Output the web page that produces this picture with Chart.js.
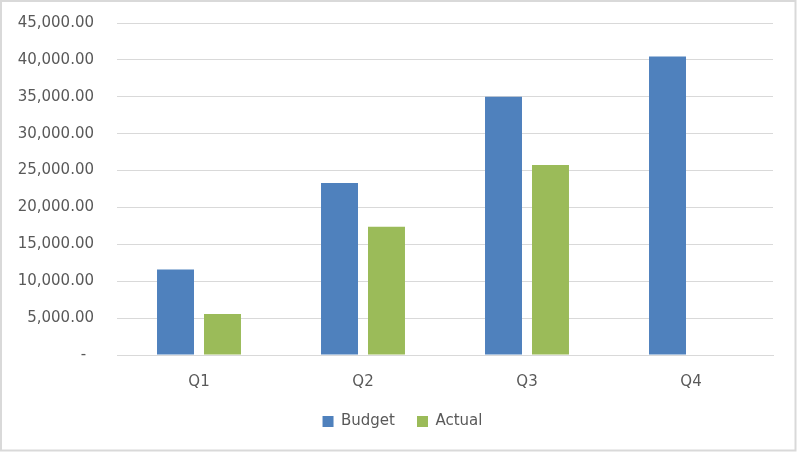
<!DOCTYPE html>
<html>
<head>
<meta charset="utf-8">
<script src="https://cdn.jsdelivr.net/npm/chart.js@4/dist/chart.umd.min.js"></script>
<style>
  html, body { margin: 0; padding: 0; background: #ffffff; }
  #wrap { width: 797px; height: 452px; position: relative; }
</style>
</head>
<body>
<div id="wrap"><canvas id="c" width="797" height="452"></canvas></div>
<script>
const categories = ["Q1", "Q2", "Q3", "Q4"];
const budget = [11600, 23300, 35000, 40450];
const actual = [5550, 17400, 25750, null];
const seriesNames = ["Budget", "Actual"];
const yMin = 0, yMax = 45000, yStep = 5000;

const borderPlugin = {
  id: 'outerBorder',
  beforeDraw(chart) {
    if (chart.legend && !chart.legend._shifted) {
      chart.legend.left += 16;
      chart.legend.right += 16;
      chart.legend._shifted = true;
    }
  },
  afterDraw(chart) {
    const ctx = chart.ctx;
    ctx.save();
    ctx.strokeStyle = '#D9D9D9';
    ctx.lineWidth = 2;
    ctx.strokeRect(1, 1, 794.5, 449.5);
    ctx.restore();
  }
};

const fmt = v => v === 0 ? '-\u00a0\u2009' :
  v.toLocaleString('en-US', {minimumFractionDigits: 2, maximumFractionDigits: 2});

new Chart(document.getElementById('c'), {
  type: 'bar',
  data: {
    labels: categories,
    datasets: [
      { label: seriesNames[0], data: budget, backgroundColor: '#4F81BD',
        categoryPercentage: 0.573, barPercentage: 0.787 },
      { label: seriesNames[1], data: actual, backgroundColor: '#9BBB59',
        categoryPercentage: 0.573, barPercentage: 0.787 }
    ]
  },
  plugins: [borderPlugin],
  options: {
    responsive: false,
    animation: false,
    devicePixelRatio: 1,
    layout: { padding: { top: 23, right: 24, left: 0, bottom: 13 } },
    plugins: {
      tooltip: { enabled: false },
      legend: {
        position: 'bottom',
        labels: {
          boxWidth: 11, boxHeight: 11, padding: 22,
          color: '#595959',
          font: { family: 'DejaVu Sans', size: 15 }
        }
      }
    },
    scales: {
      x: {
        afterFit(scale) { scale.height = 37; },
        grid: { display: false, drawTicks: false },
        border: { display: true, color: '#D9D9D9', width: 1 },
        ticks: { color: '#595959', padding: 18, font: { family: 'DejaVu Sans', size: 15 } }
      },
      y: {
        min: yMin, max: yMax,
        afterFit(scale) { scale.width = 117; scale.paddingTop = 0; scale.paddingBottom = 0; },
        grid: { color: '#D9D9D9', lineWidth: 1, drawTicks: false },
        border: { display: false },
        ticks: {
          stepSize: yStep, padding: 23, color: '#595959',
          font: { family: 'DejaVu Sans', size: 15 },
          callback: v => fmt(v)
        }
      }
    }
  }
});
</script>
</body>
</html>
